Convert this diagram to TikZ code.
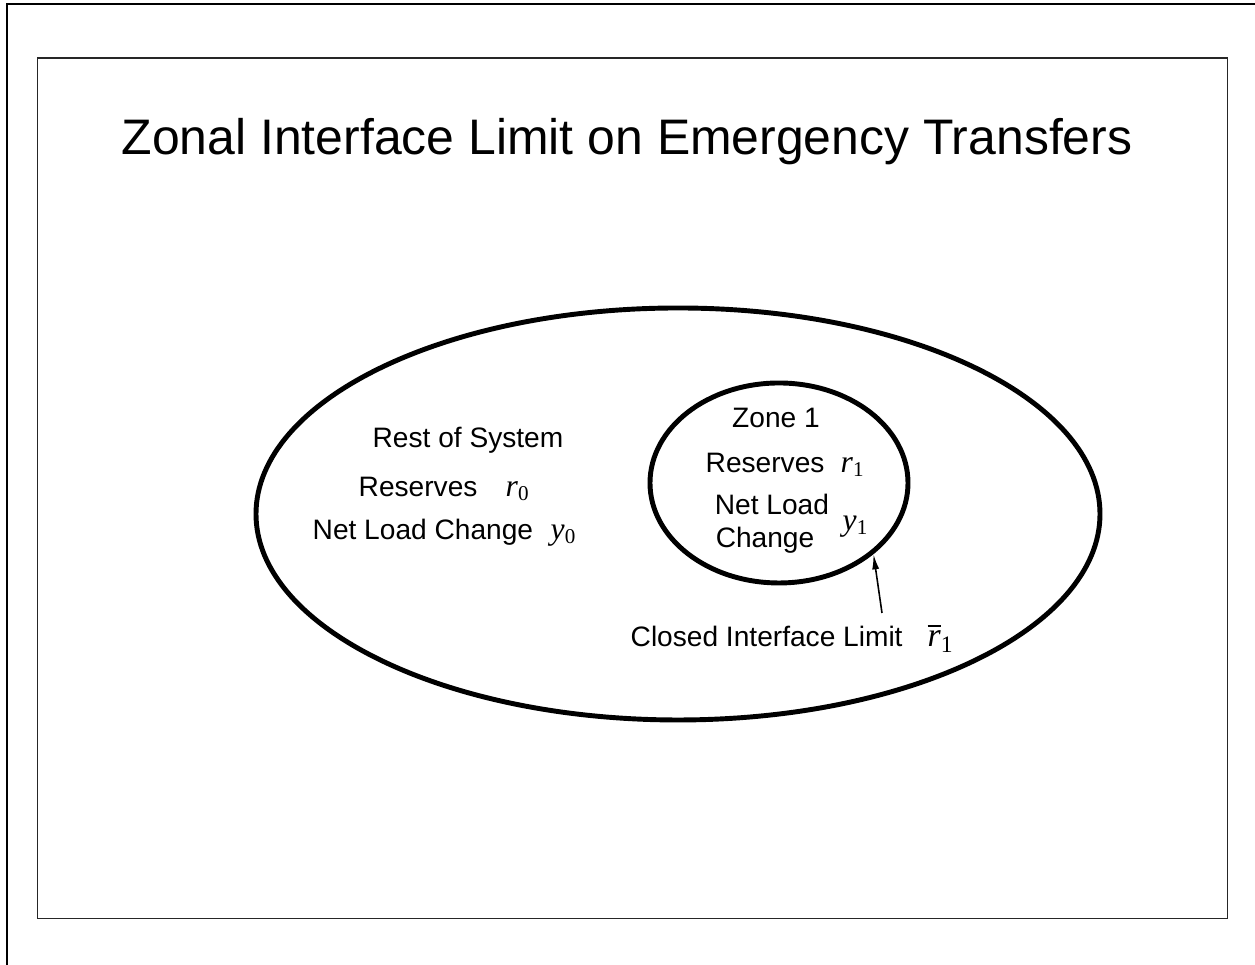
\documentclass[tikz,border=0pt]{standalone}
\usepackage{fontspec}
\setmainfont{Liberation Serif}
\setsansfont{Liberation Sans}
\usetikzlibrary{shapes.geometric,arrows.meta}
\newcommand{\zvar}[2]{\textit{#1}\textsubscript{#2}}
\newcommand{\zbar}[2]{$\overline{\mbox{\textit{#1}}}$\textsubscript{#2}}
\tikzstyle{region}=[ellipse, draw, line width=1.4pt, inner sep=0pt]
\tikzstyle{txt}=[inner sep=0pt, font=\sffamily\fontsize{8}{9.6}\selectfont]
\tikzstyle{sym}=[inner sep=0pt, font=\rmfamily\fontsize{9}{11}\selectfont]

\begin{document}
\begin{tikzpicture}
  \useasboundingbox (0,0) rectangle (12.55,9.65);
  %% Frame
  \draw[line width=.6pt] (0.07,0) -- (0.07,9.61) -- (12.55,9.61);
  \draw[line width=.45pt,black!85] (0.375,0.465) rectangle (12.275,9.07);
  \draw (6.27,8.10) node[anchor=base,inner sep=0pt,font=\sffamily\fontsize{14.2}{17}\selectfont] (title) {Zonal Interface Limit on Emergency Transfers};

  %% Regions
  \draw (6.78,4.51) node[region,minimum width=8.44cm,minimum height=4.12cm] (system) {};
  \draw (7.79,4.82) node[region,minimum width=2.58cm,minimum height=2cm] (zone) {};

  %% Rest of system
  \draw (4.68,5.17) node[txt,anchor=base] (rest) {Rest of System};
  \draw (3.58,4.68) node[txt,anchor=base west] (res0) {Reserves};
  \draw (5.05,4.68) node[sym,anchor=base west] (r0) {\zvar{r}{0}};
  \draw (3.12,4.25) node[txt,anchor=base west] (load0) {Net Load Change};
  \draw (5.50,4.25) node[sym,anchor=base west] (y0) {\zvar{y}{0}};

  %% Zone 1
  \draw (7.76,5.37) node[txt,anchor=base] (zname) {Zone 1};
  \draw (7.05,4.92) node[txt,anchor=base west] (res1) {Reserves};
  \draw (8.40,4.92) node[sym,anchor=base west] (r1) {\zvar{r}{1}};
  \draw (7.72,4.50) node[txt,anchor=base] (load1) {Net Load};
  \draw (7.65,4.17) node[txt,anchor=base] (chg1) {Change};
  \draw (8.42,4.34) node[sym,anchor=base west] (y1) {\zvar{y}{1}};

  %% Interface limit
  \draw (6.30,3.18) node[txt,anchor=base west] (cil) {Closed Interface Limit};
  \draw (9.27,3.18) node[sym,anchor=base west,font=\rmfamily\fontsize{9.6}{11}\selectfont] (rbar) {\zbar{r}{1}};
  \coordinate (tail) at (8.82,3.52);
  \draw[-{Latex[length=4.3pt,width=2pt]},line width=.45pt] (tail) -- (zone.-37);
\end{tikzpicture}
\end{document}
